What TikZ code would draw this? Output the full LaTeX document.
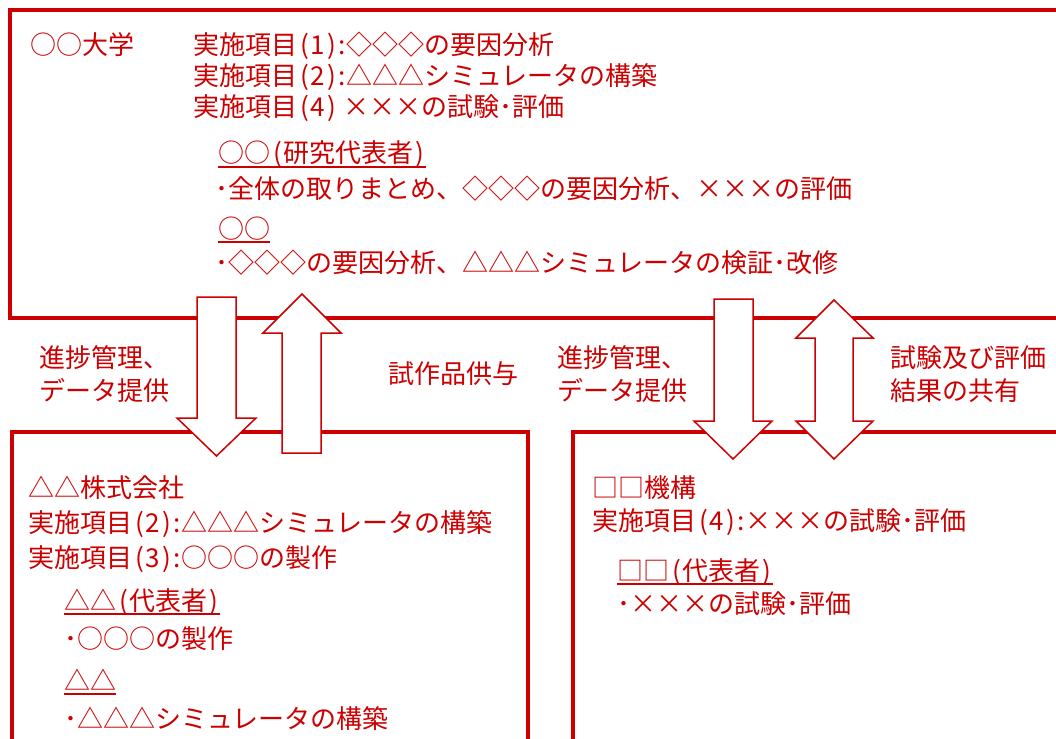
\documentclass[tikz,border=0pt]{standalone}
\usepackage{fontspec}
\setmainfont{Noto Sans CJK JP}
\definecolor{rd}{RGB}{204,0,0}
\newcommand\lp{\kern3pt(\kern2pt}
\newcommand\rp{\kern2pt)\kern1pt}
\newcommand\cl{\kern1pt:\kern1pt}
\begin{document}
\begin{tikzpicture}[x=1pt,y=-1pt,
  txt/.style={text=rd, font=\fontsize{26}{33}\selectfont, inner sep=0pt, anchor=base west},
  lbl/.style={text=rd, font=\fontsize{26}{33}\selectfont, inner sep=0pt, anchor=west, align=left},
  box/.style={draw=rd, line width=4pt},
  arr/.style={draw=rd, fill=white, line width=1.5pt, line join=miter},
  ul/.style={draw=rd, line width=1.5pt}]
\clip (0,0) rectangle (1056,738);
\fill[white] (0,0) rectangle (1056,738);
% boxes
\draw[box] (10,10) rectangle (1080,318);
\draw[box] (12,432) rectangle (528,760);
\draw[box] (573,432) rectangle (1080,760);
% top box text
\node[txt] (univ) at (30,55) {○○大学};
\node[txt] (u1) at (193,55) {実施項目\lp 1\rp\cl◇◇◇の要因分析};
\node[txt] (u2) at (193,86) {実施項目\lp 2\rp\cl△△△シミュレータの構築};
\node[txt] (u3) at (193,117) {実施項目\lp 4\rp\ ×××の試験･評価};
\node[txt] (u4) at (218,163) {○○\lp 研究代表者\rp};
\draw[ul] ([yshift=-4pt]u4.base west) -- ([yshift=-4pt]u4.base east);
\node[txt] (u5) at (215,198) {･全体の取りまとめ、◇◇◇の要因分析、×××の評価};
\node[txt] (u6) at (218,238) {○○};
\draw[ul] ([yshift=-4pt]u6.base west) -- ([yshift=-4pt]u6.base east);
\node[txt] (u7) at (215,272) {･◇◇◇の要因分析、△△△シミュレータの検証･改修};
% bottom left box text
\node[txt] (c1) at (28,497) {△△株式会社};
\node[txt] (c2) at (28,532) {実施項目\lp 2\rp\cl△△△シミュレータの構築};
\node[txt] (c3) at (28,567) {実施項目\lp 3\rp\cl○○○の製作};
\node[txt] (c4) at (64,610) {△△\lp 代表者\rp};
\draw[ul] ([yshift=-4pt]c4.base west) -- ([yshift=-4pt]c4.base east);
\node[txt] (c5) at (64,648) {･○○○の製作};
\node[txt] (c6) at (64,690) {△△};
\draw[ul] ([yshift=-4pt]c6.base west) -- ([yshift=-4pt]c6.base east);
\node[txt] (c7) at (64,728) {･△△△シミュレータの構築};
% bottom right box text
\node[txt] (k1) at (592,497) {□□機構};
\node[txt] (k2) at (592,530) {実施項目\lp 4\rp\cl×××の試験･評価};
\node[txt] (k3) at (617,580) {□□\lp 代表者\rp};
\draw[ul] ([yshift=-4pt]k3.base west) -- ([yshift=-4pt]k3.base east);
\node[txt] (k4) at (617,613) {･×××の試験･評価};
% arrows
\draw[arr] (197,297) -- (236,297) -- (236,418) -- (256,418) -- (216.5,456) -- (177,418) -- (197,418) -- cycle;
\draw[arr] (302,294) -- (341,333) -- (321,333) -- (321,453) -- (282,453) -- (282,333) -- (263,333) -- cycle;
\draw[arr] (714,299) -- (753,299) -- (753,421) -- (772,421) -- (733,459) -- (694,421) -- (714,421) -- cycle;
\draw[arr] (834,300) -- (873,338) -- (853,338) -- (853,421) -- (873,421) -- (834,459) -- (796,421) -- (815,421) -- (815,338) -- (796,338) -- cycle;
% arrow labels
\node[lbl] (l1) at (39,374) {進捗管理、\\データ提供};
\node[lbl] (l2) at (388,374) {試作品供与};
\node[lbl] (l3) at (557,374) {進捗管理、\\データ提供};
\node[lbl] (l4) at (890,374) {試験及び評価\\結果の共有};
\end{tikzpicture}
\end{document}
